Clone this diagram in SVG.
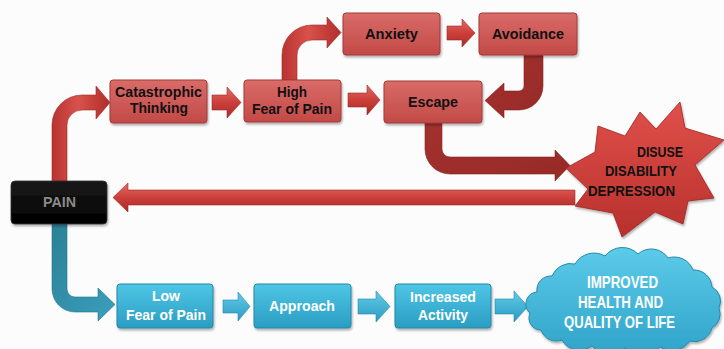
<svg xmlns="http://www.w3.org/2000/svg" width="724" height="349" viewBox="0 0 724 349">
  <defs>
    <linearGradient id="gRedBox" x1="0" y1="0" x2="0" y2="1">
      <stop offset="0" stop-color="#d96b68"/>
      <stop offset="1" stop-color="#c24a47"/>
    </linearGradient>
    <linearGradient id="gTealBox" x1="0" y1="0" x2="0" y2="1">
      <stop offset="0" stop-color="#4fc6e6"/>
      <stop offset="1" stop-color="#2a9dc2"/>
    </linearGradient>
    <linearGradient id="gPain" x1="0" y1="0" x2="0" y2="1">
      <stop offset="0" stop-color="#1a1a1a"/>
      <stop offset="1" stop-color="#000"/>
    </linearGradient>
    <linearGradient id="gRedArrow" x1="0" y1="0" x2="0" y2="1">
      <stop offset="0" stop-color="#e26c64"/>
      <stop offset="0.5" stop-color="#cc3f3a"/>
      <stop offset="1" stop-color="#a92b27"/>
    </linearGradient>
    <linearGradient id="gRedArrowV" x1="0" y1="0" x2="1" y2="0">
      <stop offset="0" stop-color="#b83431"/>
      <stop offset="0.45" stop-color="#d9514b"/>
      <stop offset="1" stop-color="#b02e2b"/>
    </linearGradient>
    <linearGradient id="gDarkRed" x1="0" y1="0" x2="1" y2="1">
      <stop offset="0" stop-color="#a3312e"/>
      <stop offset="1" stop-color="#962a27"/>
    </linearGradient>
    <linearGradient id="gTealArrow" x1="0" y1="0" x2="1" y2="1">
      <stop offset="0" stop-color="#2c8196"/>
      <stop offset="1" stop-color="#3a9fbd"/>
    </linearGradient>
    <linearGradient id="gTealSmall" x1="0" y1="0" x2="0" y2="1">
      <stop offset="0" stop-color="#62cbe8"/>
      <stop offset="1" stop-color="#2a9cc2"/>
    </linearGradient>
    <linearGradient id="gBurst" x1="0" y1="0" x2="0" y2="1">
      <stop offset="0" stop-color="#e0504a"/>
      <stop offset="1" stop-color="#b8302c"/>
    </linearGradient>
    <linearGradient id="gCloud" x1="0" y1="0" x2="0" y2="1">
      <stop offset="0" stop-color="#5ccbea"/>
      <stop offset="1" stop-color="#2fa3c8"/>
    </linearGradient>
    <filter id="shadow" x="-10%" y="-10%" width="125%" height="135%">
      <feDropShadow dx="1" dy="2" stdDeviation="1.2" flood-color="#000" flood-opacity="0.3"/>
    </filter>
  </defs>
  <style>
    .redbox { fill: url(#gRedBox); stroke: #a33a37; stroke-width: 1; filter: url(#shadow); }
    .tealbox { fill: url(#gTealBox); stroke: #2587a8; stroke-width: 1; filter: url(#shadow); }
    .lbl { font-family: "Liberation Sans", Arial, sans-serif; font-weight: bold; font-size: 15.5px; text-anchor: middle; }
    .wide { font-size: 14.5px; }
    .cloudtx { font-size: 16.5px; }
    .dark { fill: #111; }
    .light { fill: #fff; }
    .arrR { fill: url(#gRedArrow); stroke: #9c2a27; stroke-width: 0.6; }
    .arrRV { fill: url(#gRedArrowV); stroke: #9c2a27; stroke-width: 0.6; }
    .arrD { fill: url(#gDarkRed); stroke: #862422; stroke-width: 0.6; }
    .arrT { fill: url(#gTealArrow); stroke: #24768a; stroke-width: 0.6; }
    .arrTs { fill: url(#gTealSmall); stroke: #2388ac; stroke-width: 0.6; }
  </style>

  <rect width="724" height="349" fill="#fcfcfc"/>

  <g id="connectors">
    <!-- pain up to catastrophic thinking -->
    <path class="arrRV" d="M52,181 L52,125 A30,30 0 0 1 82,95 L96,95 L96,86 L110,102.5 L96,119 L96,110 L82,110 A15,15 0 0 0 67,125 L67,181 Z"/>
    <!-- catastrophic -> high fear -->
    <path class="arrR" d="M212,95 L227,95 L227,87 L241,102.5 L227,118 L227,110 L212,110 Z"/>
    <!-- high fear up to anxiety -->
    <path class="arrRV" d="M282,80 L282,55 A30,30 0 0 1 312,25 L327,25 L327,17 L341,32.5 L327,48 L327,40 L312,40 A15,15 0 0 0 297,55 L297,80 Z"/>
    <!-- anxiety -> avoidance -->
    <path class="arrR" d="M447,26 L462,26 L462,19 L475,33 L462,47 L462,40 L447,40 Z"/>
    <!-- high fear -> escape -->
    <path class="arrR" d="M348,93 L367,93 L367,85 L380,100 L367,115 L367,107 L348,107 Z"/>
    <!-- avoidance down to escape -->
    <path class="arrD" d="M524,55 L524,86 A5,5 0 0 1 519,91 L504,91 L504,83 L485,100.5 L504,118 L504,110 L519,110 A24,24 0 0 0 543,86 L543,55 Z"/>
    <!-- escape down to disuse -->
    <path class="arrD" d="M425,123 L425,149 A25,25 0 0 0 450,174 L555,174 L555,181 L570,165.5 L555,150 L555,157 L450,157 A8,8 0 0 1 442,149 L442,123 Z"/>
    <!-- disuse back to pain -->
    <path class="arrR" d="M575,190 L128,190 L128,183 L113,197.5 L128,212 L128,205 L575,205 Z"/>
    <!-- pain down to low fear -->
    <path class="arrT" d="M52,224 L52,289 A23,23 0 0 0 75,312 L98,312 L98,321 L115,304.5 L98,288 L98,297 L75,297 A8,8 0 0 1 67,289 L67,224 Z"/>
    <!-- low fear -> approach -->
    <path class="arrTs" d="M223,300 L238,300 L238,292 L250,306.5 L238,321 L238,313 L223,313 Z"/>
    <!-- approach -> increased activity -->
    <path class="arrTs" d="M358,299 L376,299 L376,291 L390,306.5 L376,322 L376,314 L358,314 Z"/>
    <!-- increased activity -> improved health -->
    <path class="arrTs" d="M495,299 L514,299 L514,291 L528,306.5 L514,322 L514,314 L495,314 Z"/>
  </g>

  <g id="node-catastrophic">
    <rect class="redbox" x="110" y="80" width="97" height="43" rx="3"/>
    <text class="lbl dark" x="158.5" y="97" textLength="87" lengthAdjust="spacingAndGlyphs">Catastrophic</text>
    <text class="lbl dark" x="159" y="113" textLength="58" lengthAdjust="spacingAndGlyphs">Thinking</text>
  </g>

  <g id="node-high-fear">
    <rect class="redbox" x="244" y="80" width="97" height="42" rx="3"/>
    <text class="lbl dark" x="292" y="97" textLength="30" lengthAdjust="spacingAndGlyphs">High</text>
    <text class="lbl dark" x="292" y="114" textLength="80" lengthAdjust="spacingAndGlyphs">Fear of Pain</text>
  </g>

  <g id="node-anxiety">
    <rect class="redbox" x="343" y="13" width="97" height="42" rx="3"/>
    <text class="lbl wide dark" x="391.5" y="39" textLength="53" lengthAdjust="spacingAndGlyphs">Anxiety</text>
  </g>

  <g id="node-avoidance">
    <rect class="redbox" x="479" y="13" width="98" height="42" rx="3"/>
    <text class="lbl wide dark" x="528" y="39" textLength="72" lengthAdjust="spacingAndGlyphs">Avoidance</text>
  </g>

  <g id="node-escape">
    <rect class="redbox" x="384" y="81" width="98" height="42" rx="3"/>
    <text class="lbl wide dark" x="433" y="107" textLength="50" lengthAdjust="spacingAndGlyphs">Escape</text>
  </g>

  <g id="node-disuse">
    <polygon fill="url(#gBurst)" stroke="#9a2522" stroke-width="0.8" filter="url(#shadow)"
      points="680,102 685,128 724,140 695,165 714,198 688,201 683,224 655,212 622,237 613,213 575,206 588,189 566,168 595,152 598,126 625,136 640,112 656,129"/>
    <text class="lbl dark" x="660" y="157" textLength="46" lengthAdjust="spacingAndGlyphs">DISUSE</text>
    <text class="lbl dark" x="641" y="176" textLength="72" lengthAdjust="spacingAndGlyphs">DISABILITY</text>
    <text class="lbl dark" x="631.5" y="196" textLength="87" lengthAdjust="spacingAndGlyphs">DEPRESSION</text>
  </g>

  <g id="node-pain">
    <rect x="11" y="181" width="96" height="43" rx="4" fill="url(#gPain)" stroke="#333" stroke-width="0.8" filter="url(#shadow)"/>
    <text class="lbl wide" fill="#8a8a8a" x="59.5" y="207" textLength="33" lengthAdjust="spacingAndGlyphs">PAIN</text>
  </g>

  <g id="node-low-fear">
    <rect class="tealbox" x="117" y="284" width="96" height="44" rx="3"/>
    <text class="lbl light" x="166" y="301" textLength="28" lengthAdjust="spacingAndGlyphs">Low</text>
    <text class="lbl light" x="166" y="320" textLength="80" lengthAdjust="spacingAndGlyphs">Fear of Pain</text>
  </g>

  <g id="node-approach">
    <rect class="tealbox" x="254" y="284" width="97" height="44" rx="3"/>
    <text class="lbl light" x="302" y="311" textLength="66" lengthAdjust="spacingAndGlyphs">Approach</text>
  </g>

  <g id="node-increased-activity">
    <rect class="tealbox" x="395" y="284" width="96" height="44" rx="3"/>
    <text class="lbl light" x="443" y="302" textLength="66" lengthAdjust="spacingAndGlyphs">Increased</text>
    <text class="lbl light" x="443" y="320" textLength="50" lengthAdjust="spacingAndGlyphs">Activity</text>
  </g>

  <g id="node-improved-health">
    <path fill="url(#gCloud)" stroke="#2589ab" stroke-width="1" filter="url(#shadow)"
      d="M530,313 A12,12 0 0 1 537,292 A14,14 0 0 1 552,276 A20,20 0 0 1 575,264 A22,22 0 0 1 605,256 A22,22 0 0 1 638,254 A20,20 0 0 1 668,258 A20,20 0 0 1 693,270 A18,18 0 0 1 712,287 A16,16 0 0 1 719,308 A16,16 0 0 1 712,328 A18,18 0 0 1 690,341 A22,22 0 0 1 660,347 A22,22 0 0 1 625,348 A22,22 0 0 1 592,346 A20,20 0 0 1 562,340 A16,16 0 0 1 541,330 A12,12 0 0 1 530,313 Z"/>
    <text class="lbl cloudtx light" x="622.5" y="288" textLength="71" lengthAdjust="spacingAndGlyphs">IMPROVED</text>
    <text class="lbl cloudtx light" x="620.5" y="308" textLength="85" lengthAdjust="spacingAndGlyphs">HEALTH AND</text>
    <text class="lbl cloudtx light" x="619.5" y="328" textLength="111" lengthAdjust="spacingAndGlyphs">QUALITY OF LIFE</text>
  </g>
</svg>
